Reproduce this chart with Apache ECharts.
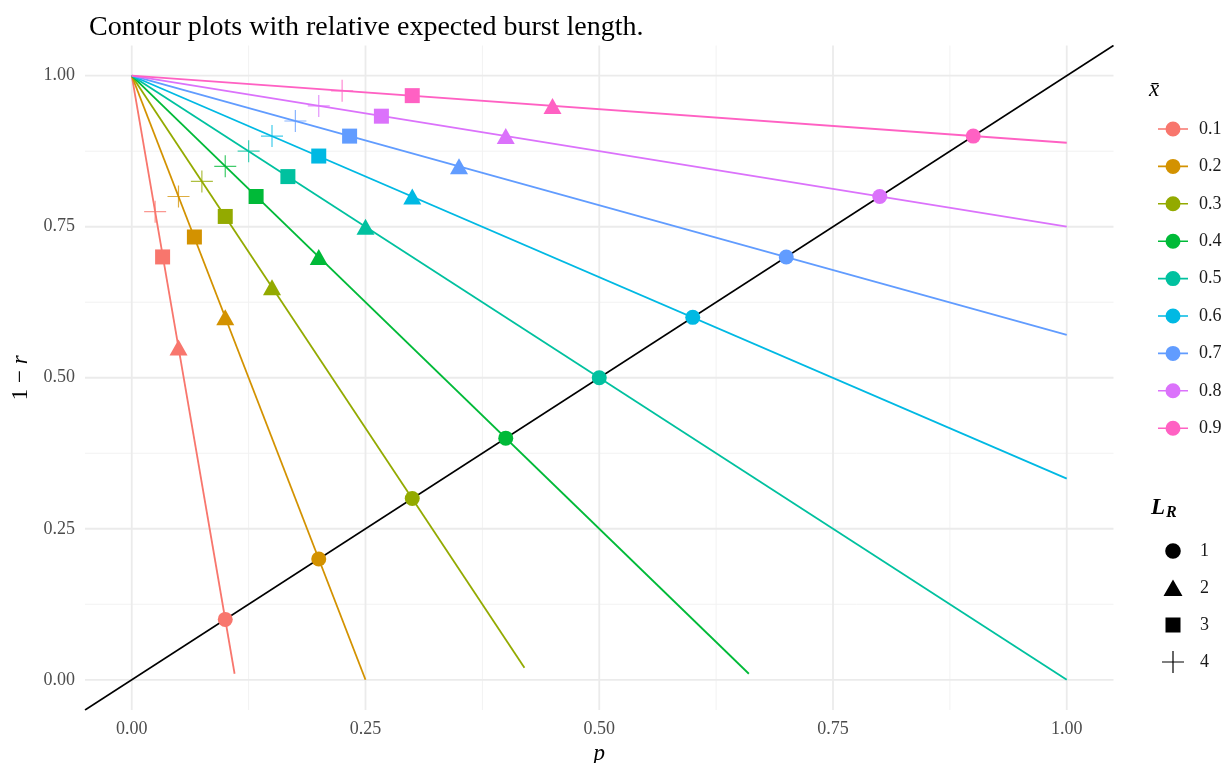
<!DOCTYPE html>
<html>
<head>
<meta charset="utf-8">
<script src="https://cdn.jsdelivr.net/npm/echarts@6/dist/echarts.min.js"></script>
<style>
html,body{margin:0;padding:0;background:#fff;}
#chart{width:1228px;height:763px;}
</style>
</head>
<body>
<div id="chart"></div>
<script>
// ---- data ----
var xbarLevels = ['0.1','0.2','0.3','0.4','0.5','0.6','0.7','0.8','0.9'];
var palette = ['#F8766D','#D39200','#93AA00','#00BA38','#00C19F','#00B9E3','#619CFF','#DB72FB','#FF61C3'];
// contour lines start at (0, 1) and end at these points
var lineStartP = 0, lineStartY = 1;
var lineEndP = [0.11, 0.25, 0.42, 0.66, 1.00, 1.00, 1.00, 1.00, 1.00];
var lineEndY = [0.01, 0.00, 0.02, 0.01, 0.00, 0.333, 0.571, 0.75, 0.889];
// points for L_R = 1..4
var lrLevels = ['1','2','3','4'];
var pointsP1 = [0.10, 0.20, 0.30, 0.40, 0.50, 0.60, 0.70, 0.80, 0.90];
var pointsY1 = [0.10, 0.20, 0.30, 0.40, 0.50, 0.60, 0.70, 0.80, 0.90];
var pointsP2 = [0.05, 0.10, 0.15, 0.20, 0.25, 0.30, 0.35, 0.40, 0.45];
var pointsY2 = [0.55, 0.60, 0.65, 0.70, 0.75, 0.80, 0.85, 0.90, 0.95];
var pointsP3 = [0.033, 0.067, 0.100, 0.133, 0.167, 0.200, 0.233, 0.267, 0.300];
var pointsY3 = [0.700, 0.733, 0.767, 0.800, 0.833, 0.867, 0.900, 0.933, 0.967];
var pointsP4 = [0.025, 0.050, 0.075, 0.100, 0.125, 0.150, 0.175, 0.200, 0.225];
var pointsY4 = [0.775, 0.800, 0.825, 0.850, 0.875, 0.900, 0.925, 0.950, 0.975];
// axes
var axisMin = -0.05, axisMax = 1.05;
var majorTicks = [0, 0.25, 0.5, 0.75, 1];
var minorTicks = [0.125, 0.375, 0.625, 0.875];

// ---- build ----
var FONT = '"Liberation Serif", "Times New Roman", serif';
var crossPath = 'path://M10.4,0H11.6V10.4H22V11.6H11.6V22H10.4V11.6H0V10.4H10.4Z';
var pad = 'M0,0h0.01v0.01h-0.01z M22,22h-0.01v-0.01h0.01z ';
var legendShapeIcons = [
  'path://' + pad + 'M18.8,11a7.8,7.8 0 1,1 -15.6,0a7.8,7.8 0 1,1 15.6,0z',
  'path://' + pad + 'M11,2.5L20.5,19L1.5,19Z',
  'path://' + pad + 'M3.5,3.5H18.5V18.5H3.5Z',
  crossPath
];
var lineDotIcon = 'path://M0,7.2h8v1.6H0z M22,7.2h8v1.6h-8z M22.5,8a7.5,7.5 0 1,1 -15,0a7.5,7.5 0 1,1 15,0z';
var symbols = ['circle', 'triangle', 'rect', crossPath];
var symbolSizes = [15, [18, 16], 15, 22];
var ptsP = [pointsP1, pointsP2, pointsP3, pointsP4];
var ptsY = [pointsY1, pointsY2, pointsY3, pointsY4];

var series = [];
// grid lines as plain line series under everything
function gridSeries(v, vertical, color, width) {
  return {
    type: 'line', silent: true, z: 0, symbol: 'none', animation: false,
    data: vertical ? [[v, axisMin], [v, axisMax]] : [[axisMin, v], [axisMax, v]],
    lineStyle: {color: color, width: width}
  };
}
minorTicks.forEach(function (v) {
  series.push(gridSeries(v, true, '#F2F2F2', 1));
  series.push(gridSeries(v, false, '#F2F2F2', 1));
});
majorTicks.forEach(function (v) {
  series.push(gridSeries(v, true, '#EBEBEB', 1.8));
  series.push(gridSeries(v, false, '#EBEBEB', 1.8));
});
// diagonal
series.push({
  type: 'line', name: 'diag', data: [[axisMin, axisMin], [axisMax, axisMax]],
  symbol: 'none', silent: true, z: 2,
  lineStyle: {color: '#000', width: 1.5}
});
// contour lines
xbarLevels.forEach(function (name, i) {
  series.push({
    type: 'line', name: name, z: 3,
    data: [[lineStartP, lineStartY], [lineEndP[i], lineEndY[i]]],
    symbol: 'none', silent: true,
    itemStyle: {color: palette[i]},
    lineStyle: {color: palette[i], width: 1.8}
  });
});
// points
lrLevels.forEach(function (name, k) {
  var data = xbarLevels.map(function (_, i) {
    return {value: [ptsP[k][i], ptsY[k][i]], itemStyle: {color: palette[i], opacity: k === 3 ? 0.75 : 1}};
  });
  series.push({
    type: 'scatter', name: name, z: 5,
    symbol: symbols[k], symbolSize: symbolSizes[k],
    itemStyle: {color: '#000'},
    data: data
  });
});

var option = {
  animation: false,
  backgroundColor: '#fff',
  textStyle: {fontFamily: FONT},
  title: [
    {text: 'Contour plots with relative expected burst length.', left: 84, top: 8,
      textStyle: {fontFamily: FONT, fontSize: 28, fontWeight: 'normal', color: '#000', lineHeight: 30}},
    {text: 'x\u0304', left: 1144, top: 73,
      textStyle: {fontFamily: FONT, fontSize: 23, fontStyle: 'italic', fontWeight: 'normal', color: '#000'}},
    {text: '{a|L}{b|R}', left: 1146, top: 490,
      textStyle: {rich: {
        a: {fontFamily: FONT, fontSize: 23, fontStyle: 'italic', color: '#000'},
        b: {fontFamily: FONT, fontSize: 16, fontStyle: 'italic', color: '#000', padding: [10, 0, 0, 1]}
      }}}
  ],
  grid: {left: 85, right: 114.5, top: 45.5, bottom: 53, containLabel: false, outerBoundsMode: 'none'},
  xAxis: {
    type: 'value', min: axisMin, max: axisMax,
    name: 'p', nameLocation: 'middle', nameGap: 26,
    nameTextStyle: {fontFamily: FONT, fontSize: 23, fontStyle: 'italic', color: '#000'},
    axisLine: {show: false}, axisTick: {show: false}, splitLine: {show: false},
    axisLabel: {customValues: majorTicks, margin: 10, fontFamily: FONT, fontSize: 18, color: '#4D4D4D',
      formatter: function (v) { return v.toFixed(2); }}
  },
  yAxis: {
    type: 'value', min: axisMin, max: axisMax,
    name: '{n|1 \u2212 }{i|r}', nameLocation: 'middle', nameGap: 44, nameRotate: 90,
    nameTextStyle: {fontFamily: FONT, fontSize: 23, color: '#000',
      rich: {n: {fontFamily: FONT, fontSize: 23, color: '#000'},
             i: {fontFamily: FONT, fontSize: 23, fontStyle: 'italic', color: '#000'}}},
    axisLine: {show: false}, axisTick: {show: false}, splitLine: {show: false},
    axisLabel: {customValues: majorTicks, margin: 10, fontFamily: FONT, fontSize: 18, color: '#4D4D4D',
      formatter: function (v) { return v.toFixed(2); }}
  },
  legend: [
    {
      orient: 'vertical', left: 1153, top: 115,
      itemWidth: 30, itemHeight: 15, itemGap: 19.4,
      selectedMode: false,
      textStyle: {fontFamily: FONT, fontSize: 18, color: '#1A1A1A', padding: [0, 0, 0, 6]},
      data: xbarLevels.map(function (n) { return {name: n, icon: lineDotIcon}; })
    },
    {
      orient: 'vertical', left: 1157, top: 535,
      itemWidth: 22, itemHeight: 22, itemGap: 15,
      selectedMode: false,
      textStyle: {fontFamily: FONT, fontSize: 18, color: '#1A1A1A', padding: [0, 0, 0, 11]},
      data: lrLevels.map(function (n, k) {
        return {name: n, icon: legendShapeIcons[k], itemStyle: {color: '#000', opacity: 1}};
      })
    }
  ],
  series: series
};

var chart = echarts.init(document.getElementById('chart'), null, {renderer: 'canvas'});
chart.setOption(option);
</script>
</body>
</html>
